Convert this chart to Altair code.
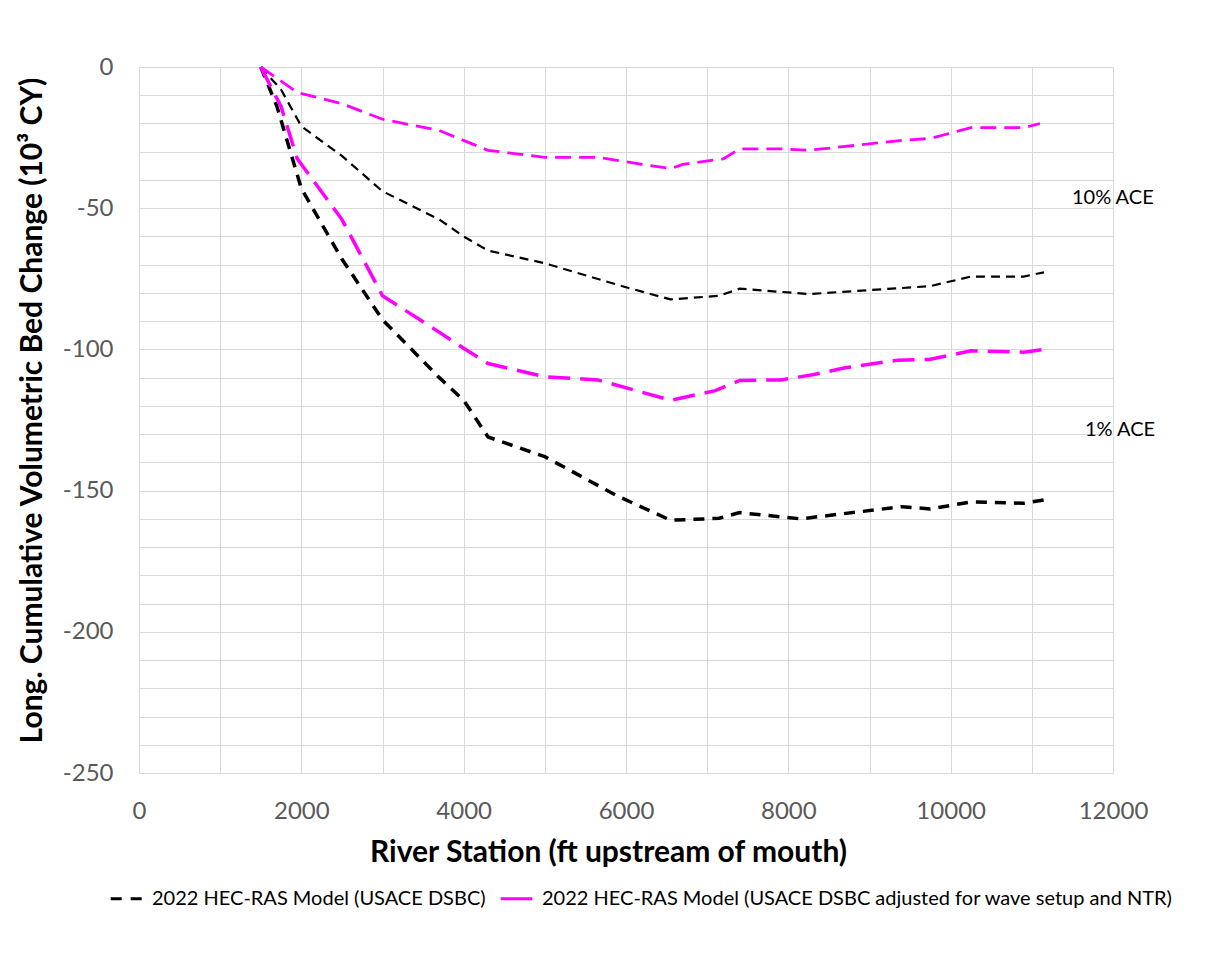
import altair as alt
import pandas as pd

MODELS = ["2022 HEC-RAS Model (USACE DSBC)",
          "2022 HEC-RAS Model (USACE DSBC adjusted for wave setup and NTR)"]

# Black, 10% ACE
b10_x = [1500, 1750, 2000, 2500, 3000, 3700, 4000, 4300, 5000, 6000, 6550, 7150, 7400, 8250, 9750, 10250, 10900, 11150]
b10_y = [0, -8, -21, -31.5, -44, -54, -60, -65, -69.5, -78, -82.3, -81, -78.5, -80.4, -77.6, -74.2, -74.2, -72.7]
# Black, 1% ACE
b1_x = [1500, 1700, 2000, 2500, 3000, 3700, 4000, 4300, 5000, 5900, 6550, 7150, 7400, 8150, 9400, 9750, 10250, 10900, 11150]
b1_y = [0, -14, -43, -68, -89.5, -110, -118, -131, -138, -152, -160.5, -159.8, -157.8, -160, -155.7, -156.5, -154, -154.5, -153.3]
# Magenta, 10% ACE
m10_x = [1500, 1950, 2500, 3000, 3700, 4300, 5000, 5650, 6550, 6700, 7200, 7400, 7900, 8250, 9400, 9750, 10250, 10900, 11100]
m10_y = [0, -9, -13, -18.5, -22.5, -29.5, -32, -32, -36, -34.5, -32.5, -29, -29, -29.5, -26, -25.3, -21.5, -21.5, -20]
# Magenta, 1% ACE
m1_x = [1500, 1750, 1950, 2500, 3000, 3650, 4000, 4300, 5000, 5650, 6550, 7100, 7400, 7900, 8300, 8700, 9350, 9750, 10250, 10900, 11150]
m1_y = [0, -14, -32.5, -54, -81, -93, -99.6, -105, -109.7, -110.8, -118, -114.6, -111, -110.8, -109, -106.5, -103.8, -103.5, -100.5, -101, -100]

ann_labels = ["10% ACE", "1% ACE"]
ann_x = [11494, 11654]
ann_y = [-46.4, -128.5]

FONT = "Lato"
GRID = "#d9d9d9"

def frame(xs, ys, model):
    return pd.DataFrame({"station": xs, "change": ys, "model": model})

leg = alt.Legend(orient="none", legendX=-30, legendY=814, direction="horizontal",
                 title=None, labelFont=FONT, labelFontSize=20, labelColor="#000000",
                 labelLimit=900, symbolType="stroke", symbolSize=1000,
                 symbolStrokeWidth=3, columnPadding=8, labelOffset=8)

color_scale = alt.Scale(domain=MODELS, range=["#000000", "#FF00FF"])
dash_scale = alt.Scale(domain=MODELS, range=[[11, 9], [1, 0]])

x_enc = alt.X("station:Q", scale=alt.Scale(domain=[0, 12000], nice=False),
              axis=alt.Axis(values=list(range(0, 12001, 1000)),
                            labelExpr="datum.value % 2000 == 0 ? '' + datum.value : ''",
                            labelOverlap=False, labelFlush=False,
                            grid=True, gridColor=GRID, ticks=False, domain=False,
                            labelFont=FONT, labelFontSize=24, labelColor="#595959",
                            labelPadding=26,
                            title="River Station (ft upstream of mouth)",
                            titleFont=FONT, titleFontSize=30, titleFontWeight="bold",
                            titleColor="#000000", titleX=469, titleY=79,
                            titleBaseline="middle", titleAlign="center"))
y_enc = alt.Y("change:Q", scale=alt.Scale(domain=[-250, 0], nice=False),
              axis=alt.Axis(values=list(range(-250, 1, 10)),
                            labelExpr="datum.value % 50 == 0 ? '' + datum.value : ''",
                            labelOverlap=False, labelFlush=False,
                            grid=True, gridColor=GRID, ticks=False, domain=False,
                            labelFont=FONT, labelFontSize=24, labelColor="#595959",
                            labelPadding=26,
                            title="Long. Cumulative Volumetric Bed Change (10³ CY)",
                            titleFont=FONT, titleFontSize=30, titleFontWeight="bold",
                            titleColor="#000000", titleX=-92, titleY=343))

def line(df, width, dash):
    return alt.Chart(df).mark_line(strokeWidth=width, strokeDash=dash).encode(
        x=x_enc, y=y_enc,
        color=alt.Color("model:N", scale=color_scale, legend=leg),
    )

dummy = alt.Chart(pd.DataFrame({"station": [1500, 1500], "change": [0, 0], "model": MODELS})).mark_line(
    strokeWidth=3).encode(
    x=x_enc, y=y_enc,
    color=alt.Color("model:N", scale=color_scale, legend=leg),
    strokeDash=alt.StrokeDash("model:N", scale=dash_scale, legend=leg),
)

l_b10 = line(frame(b10_x, b10_y, MODELS[0]), 2.2, [9, 6])
l_b1 = line(frame(b1_x, b1_y, MODELS[0]), 3.5, [11, 8])
l_m10 = line(frame(m10_x, m10_y, MODELS[1]), 2.8, [16, 8])
l_m1 = line(frame(m1_x, m1_y, MODELS[1]), 3.5, [22, 10])

ann = alt.Chart(pd.DataFrame({"label": ann_labels, "station": ann_x, "change": ann_y})).mark_text(
    align="left", baseline="middle", font=FONT, fontSize=20, color="#000000").encode(
    x=x_enc, y=y_enc, text="label:N")

chart = alt.layer(dummy, l_b10, l_b1, l_m10, l_m1, ann).properties(
    width=974, height=706,
    autosize=alt.AutoSizeParams(type="none"),
    padding={"left": 131, "top": 59, "right": 104, "bottom": 188},
    background="white",
).configure_view(stroke=GRID, strokeWidth=1).configure_axis(labelOverlap=False)

chart.save("out.html", embed_options={"renderer": "svg", "actions": False})
